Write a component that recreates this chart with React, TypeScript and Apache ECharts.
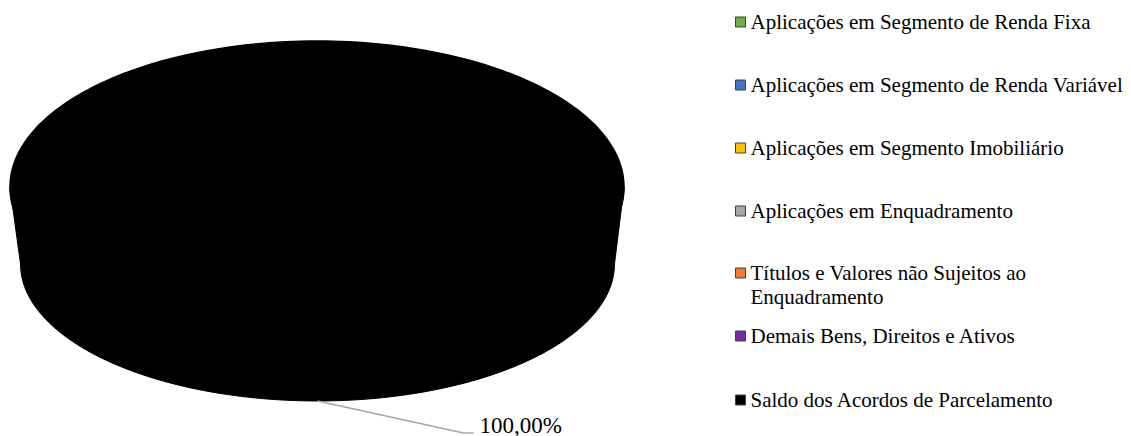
import React, { useEffect, useRef } from "react";
import * as echarts from "echarts";

const categories = [
  "Aplicações em Segmento de Renda Fixa",
  "Aplicações em Segmento de Renda Variável",
  "Aplicações em Segmento Imobiliário",
  "Aplicações em Enquadramento",
  "Títulos e Valores não Sujeitos ao Enquadramento",
  "Demais Bens, Direitos e Ativos",
  "Saldo dos Acordos de Parcelamento",
];
const values = [0, 0, 0, 0, 0, 0, 100];
const colors = ["#70AD47", "#4472C4", "#FFC000", "#A5A5A5", "#ED7D31", "#7030A0", "#000000"];
const legendDisplay: Record<string, string> = {
  "Títulos e Valores não Sujeitos ao Enquadramento": "\nTítulos e Valores não Sujeitos ao\nEnquadramento",
};

// layout constants (pixels)
const TOP = { cx: 317, cy: 187, rx: 307, ry: 146 };
const BOT = { cx: 317.5, cy: 264, rx: 297, ry: 137 };
const legendCenters = [22, 85, 148, 211, 273, 336, 400];
const LINE_H = 24;
const FONT = "'Liberation Serif', 'Times New Roman', serif";

function pt(e: { cx: number; cy: number; rx: number; ry: number }, a: number) {
  return [e.cx + e.rx * Math.sin(a), e.cy - e.ry * Math.cos(a)];
}

function arc(e: any, a0: number, a1: number, n: number) {
  const pts: number[][] = [];
  for (let k = 0; k <= n; k++) pts.push(pt(e, a0 + ((a1 - a0) * k) / n));
  return pts;
}

export default function App() {
  const ref = useRef<HTMLDivElement>(null);
  useEffect(() => {
    document.body.style.margin = "0";
    const chart = echarts.init(ref.current!, undefined, { renderer: "svg" });
    const total = values.reduce((a, b) => a + b, 0);
    const series = categories.map((name, i) => {
      const startV = values.slice(0, i).reduce((a, b) => a + b, 0);
      return {
        type: "custom",
        name,
        coordinateSystem: "none",
        silent: true,
        itemStyle: { color: colors[i] },
        data: [[values[i]]],
        renderItem: () => {
          const v = values[i];
          if (!v || v <= 0) return { type: "group", children: [] };
          const a0 = (startV / total) * Math.PI * 2;
          const a1 = ((startV + v) / total) * Math.PI * 2;
          const full = a1 - a0 >= Math.PI * 2 - 1e-9;
          const children: any[] = [];
          // side face (front half)
          const s = Math.max(a0, Math.PI / 2);
          const e = Math.min(a1, (Math.PI * 3) / 2);
          if (e > s) {
            const topArc = arc(TOP, s, e, 120);
            const botArc = arc(BOT, s, e, 120).reverse();
            children.push({
              type: "polygon",
              shape: { points: topArc.concat(botArc) },
              style: { fill: colors[i], stroke: colors[i], lineWidth: 1 },
            });
          }
          // top face
          const topPts = arc(TOP, a0, a1, 240);
          children.push({
            type: "polygon",
            shape: { points: full ? topPts : [[TOP.cx, TOP.cy]].concat(topPts) },
            style: { fill: colors[i], stroke: colors[i], lineWidth: 1.5 },
          });
          // label with leader line
          const am = (a0 + a1) / 2;
          const [ax, ay] = pt(BOT, am);
          const pct = ((v / total) * 100).toFixed(2).replace(".", ",") + "%";
          children.push({
            type: "polyline",
            shape: { points: [[ax, ay], [ax + 146, ay + 32], [ax + 156, ay + 32]] },
            style: { stroke: "#A6A6A6", lineWidth: 1.3, fill: "none" },
          });
          children.push({
            type: "text",
            style: {
              text: pct,
              x: ax + 162,
              y: ay + 24,
              fill: "#000",
              fontFamily: FONT,
              fontSize: 23,
              lineHeight: 20,
              align: "left",
              verticalAlign: "middle",
            },
          });
          return { type: "group", children };
        },
      };
    });

    const legends = categories.map((name, i) => {
      const disp = legendDisplay[name] || name;
      const lines = disp.split("\n").length;
      return {
        data: [name],
        orient: "vertical",
        left: 735,
        top: legendCenters[i] - (lines * LINE_H) / 2,
        padding: 0,
        icon: "rect",
        itemWidth: 10,
        itemHeight: 10,
        selectedMode: false,
        itemStyle: { borderColor: "#404040", borderWidth: 1 },
        formatter: () => disp,
        textStyle: {
          fontFamily: FONT,
          fontSize: 21,
          lineHeight: LINE_H,
          color: "#000",
        },
      };
    });

    chart.setOption({
      animation: false,
      backgroundColor: "#ffffff",
      legend: legends,
      series,
    } as any);
    return () => chart.dispose();
  }, []);
  return <div ref={ref} style={{ width: 1131, height: 436 }} />;
}
